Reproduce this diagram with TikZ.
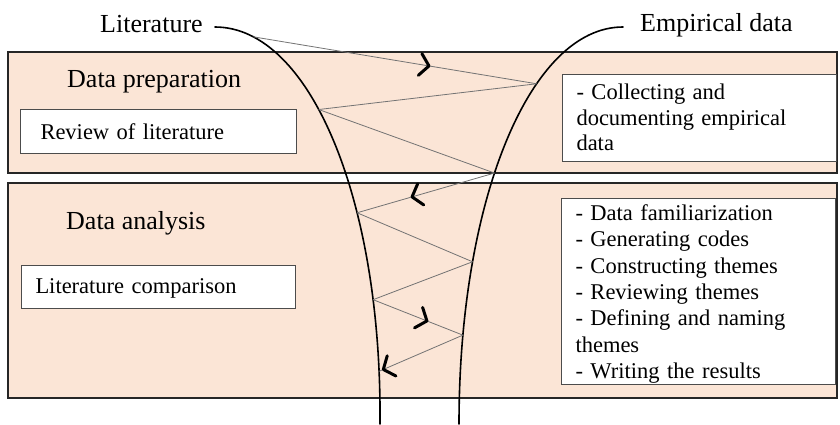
\documentclass[tikz,border=0pt]{standalone}
\usepackage{fontspec}
\setmainfont{Liberation Serif}
\usetikzlibrary{arrows.meta, decorations.markings, positioning}
\definecolor{peach}{HTML}{FBE5D6}

\begin{document}
\begin{tikzpicture}[x=1pt, y=-1pt, >=Stealth,
        band/.style={draw=black!85, line width=1.5pt, fill=peach},
        txtbox/.style={draw=black!70, line width=1pt, fill=white, anchor=north west,
            align=left, inner xsep=14pt, inner ysep=1pt, text width=246pt,
            font=\fontsize{22.5}{25.7}\selectfont},
        head/.style={inner sep=0pt, anchor=base west, font=\fontsize{26}{31}\selectfont},
        flowline/.style={line width=1.6pt, line cap=round},
        zig/.style={draw=black!55, line width=0.8pt},
        chev/.style={postaction={decorate, decoration={markings,
            mark=at position #1 with {\draw[black, line width=3pt, line cap=round, line join=round]
                (-9pt,-11pt) -- (0pt,0pt) -- (-9pt,11pt);}}}}]
    \useasboundingbox (0,0) rectangle (840,424);
    % phases
    \draw[band] (8,52) rectangle (837,173);
    \draw[band] (8,183) rectangle (837,398);
    \node[head] (lit) at (100,32) {Literature};
    \node[head] (emp) at (640,31) {Empirical data};
    \node[head] (prep) at (67,87) {Data preparation};
    \node[head] (anal) at (66,229) {Data analysis};
    % boxes
    \node[txtbox, inner xsep=20pt, text width=236pt, text height=29pt, text depth=13pt] (review) at (20,109) {Review of literature};
    \node[txtbox, text height=27pt, text depth=14pt] (compare) at (21,265) {Literature comparison};
    \node[txtbox, text height=24pt, text depth=61pt] (collect) at (562,74) {- Collecting and\\documenting empirical\\data};
    \node[txtbox, text height=21pt, font=\fontsize{22.5}{26.3}\selectfont] (steps) at (561,198)
        {- Data familiarization\\- Generating codes\\- Constructing themes\\- Reviewing themes\\- Defining and naming\\themes\\- Writing the results};
    % the two funnels
    \coordinate (litend) at (215,27);
    \coordinate (empend) at (623,27);
    \draw[flowline] (litend) .. controls (310,27) and (382,200) .. (380,424)
        coordinate[pos=0.14] (a1) coordinate[pos=0.42] (a2) coordinate[pos=0.65] (a3)
        coordinate[pos=0.805] (a4) coordinate[pos=0.92] (a5);
    \draw[flowline] (empend) .. controls (530,27) and (459,200) .. (459,424)
        coordinate[pos=0.345] (b1) coordinate[pos=0.57] (b2) coordinate[pos=0.74] (b3)
        coordinate[pos=0.863] (b4);
    % zigzag
    \draw[zig, chev=0.62] (a1) -- (b1);
    \draw[zig] (b1) -- (a2);
    \draw[zig] (a2) -- (b2);
    \draw[zig, chev=0.6] (b2) -- (a3);
    \draw[zig] (a3) -- (b3);
    \draw[zig] (b3) -- (a4);
    \draw[zig, chev=0.6] (a4) -- (b4);
    \draw[zig, chev=0.95] (b4) -- (a5);
\end{tikzpicture}
\end{document}
